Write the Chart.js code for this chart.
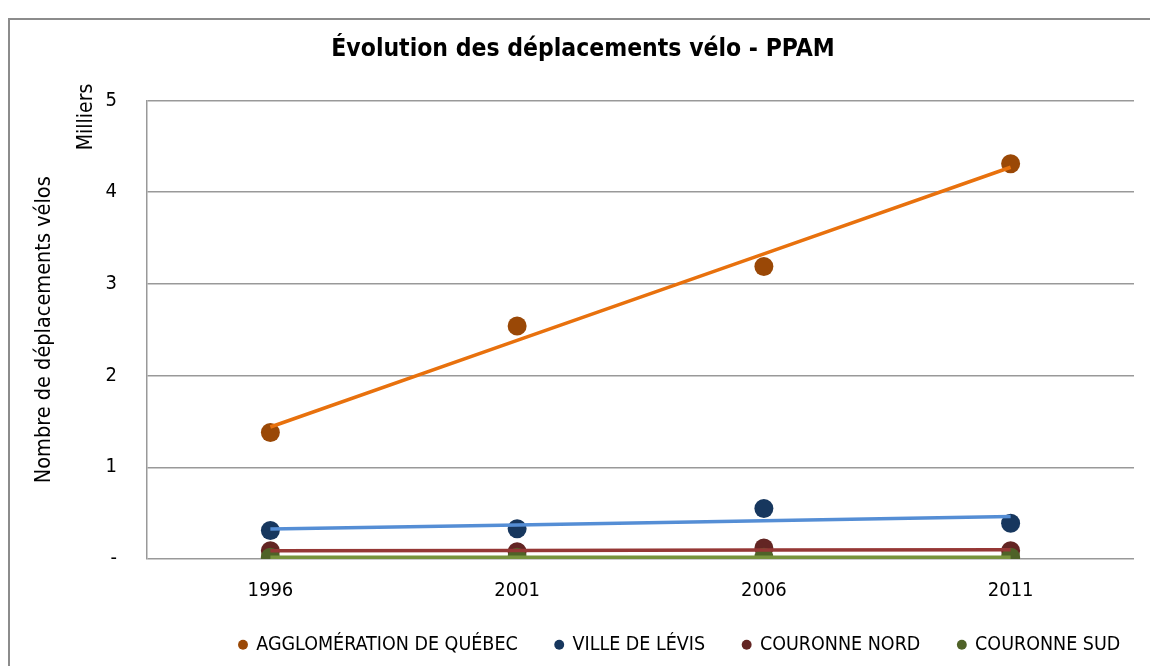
<!DOCTYPE html>
<html>
<head>
<meta charset="utf-8">
<script src="https://cdn.jsdelivr.net/npm/chart.js@4/dist/chart.umd.min.js"></script>
<style>
  html, body { margin: 0; padding: 0; background: #fff; overflow: hidden; }
  #frame { position: absolute; left: 8px; top: 18px; width: 1200px; height: 700px; border: 2px solid #8c8c8c; box-sizing: border-box; }
  #wrap { position: absolute; left: 0; top: 0; width: 1150px; height: 666px; }
</style>
</head>
<body>
<div id="frame"></div>
<div id="wrap"><canvas id="c" width="1150" height="666"></canvas></div>
<script>
const years = ['1996', '2001', '2006', '2011'];
const seriesNames = ['AGGLOMÉRATION DE QUÉBEC', 'VILLE DE LÉVIS', 'COURONNE NORD', 'COURONNE SUD'];
const agglo = [1.38, 2.54, 3.19, 4.31];
const levis = [0.31, 0.33, 0.55, 0.39];
const nord = [0.09, 0.08, 0.12, 0.09];
const sud = [0.02, 0.02, 0.02, 0.02];
const yTicks = [0, 1, 2, 3, 4, 5];

const markerColors = ['#9A4806', '#17375E', '#632523', '#4F6228'];
const trendColors = ['#E8710D', '#558ED5', '#953735', '#77933C'];
const FONT = "'Liberation Sans Narrow', 'DejaVu Sans Condensed', 'Arial Narrow', sans-serif";

function linearTrend(ys) {
  const n = ys.length;
  const mx = (n - 1) / 2;
  const my = ys.reduce((a, b) => a + b, 0) / n;
  let num = 0, den = 0;
  ys.forEach((y, i) => { num += (i - mx) * (y - my); den += (i - mx) * (i - mx); });
  const slope = num / den;
  return ys.map((_, i) => my + slope * (i - mx));
}

const allSeries = [agglo, levis, nord, sud];
const datasets = [];
allSeries.forEach((vals, i) => {
  datasets.push({
    label: seriesNames[i],
    data: vals,
    showLine: false,
    pointRadius: 9.5,
    pointHoverRadius: 9.5,
    pointBorderWidth: 0,
    pointBackgroundColor: markerColors[i],
    backgroundColor: markerColors[i],
    borderColor: markerColors[i],
    pointStyle: 'circle',
    order: 7 - i
  });
});
allSeries.forEach((vals, i) => {
  datasets.push({
    label: 'trend' + i,
    isTrend: true,
    data: linearTrend(vals),
    borderColor: trendColors[i],
    borderWidth: 3.5,
    pointRadius: 0,
    fill: false,
    tension: 0,
    order: 3 - i
  });
});

const LEGEND_PAD = 38;
const LEGEND_START_X = 239.5;
const LEGEND_CENTER_Y = 645;

const extrasPlugin = {
  id: 'extras',
  afterLayout(chart) {
    const lg = chart.legend;
    if (lg) {
      const w = lg.right - lg.left;
      lg.left = LEGEND_START_X - LEGEND_PAD;
      lg.right = lg.left + w;
      lg.top = LEGEND_CENTER_Y - LEGEND_PAD - 10;
      lg.bottom = chart.height;
    }
  },
  afterDraw(chart) {
    const ctx = chart.ctx;
    ctx.save();
    ctx.fillStyle = '#000';
    ctx.font = '21px ' + FONT;
    ctx.translate(87, 117);
    ctx.rotate(-Math.PI / 2);
    ctx.textAlign = 'center';
    ctx.textBaseline = 'middle';
    ctx.fillText('Milliers', 0, 0);
    ctx.restore();
  }
};

new Chart(document.getElementById('c'), {
  type: 'line',
  data: { labels: years, datasets },
  plugins: [extrasPlugin],
  options: {
    responsive: false,
    animation: false,
    layout: { padding: { left: 32, right: 16, top: 0, bottom: 2 } },
    plugins: {
      tooltip: { enabled: false },
      title: {
        display: true,
        text: 'Évolution des déplacements vélo - PPAM',
        color: '#000',
        font: { family: FONT, size: 24.5, weight: 'bold' },
        padding: { top: 35, bottom: 36 }
      },
      legend: {
        position: 'bottom',
        align: 'start',
        maxHeight: 60,
        labels: {
          filter: (item, data) => !data.datasets[item.datasetIndex].isTrend,
          sort: (a, b) => a.datasetIndex - b.datasetIndex,
          usePointStyle: true,
          pointStyle: 'circle',
          boxWidth: 7,
          boxHeight: 7,
          color: '#000',
          padding: LEGEND_PAD,
          font: { family: FONT, size: 19.5 }
        }
      }
    },
    scales: {
      x: {
        type: 'category',
        offset: true,
        grid: { display: false, drawTicks: false },
        border: { display: false },
        ticks: { color: '#000', padding: 20, font: { family: FONT, size: 20 } },
        afterFit(scale) { scale.height = 45; }
      },
      y: {
        min: 0,
        max: 5,
        afterBuildTicks(scale) { scale.ticks = yTicks.map(v => ({ value: v })); },
        grid: { color: '#999999', lineWidth: 1.5, drawTicks: false },
        border: { display: true, color: '#999999', width: 1.5 },
        ticks: {
          color: '#000',
          padding: 30,
          font: { family: FONT, size: 20 },
          callback: (v) => v === 0 ? '-' : String(v)
        },
        title: {
          display: true,
          text: 'Nombre de déplacements vélos',
          color: '#000',
          font: { family: FONT, size: 21.5 },
          padding: { top: 0, bottom: 0 }
        },
        afterFit(scale) { scale.width = 115; }
      }
    }
  }
});
</script>
</body>
</html>
